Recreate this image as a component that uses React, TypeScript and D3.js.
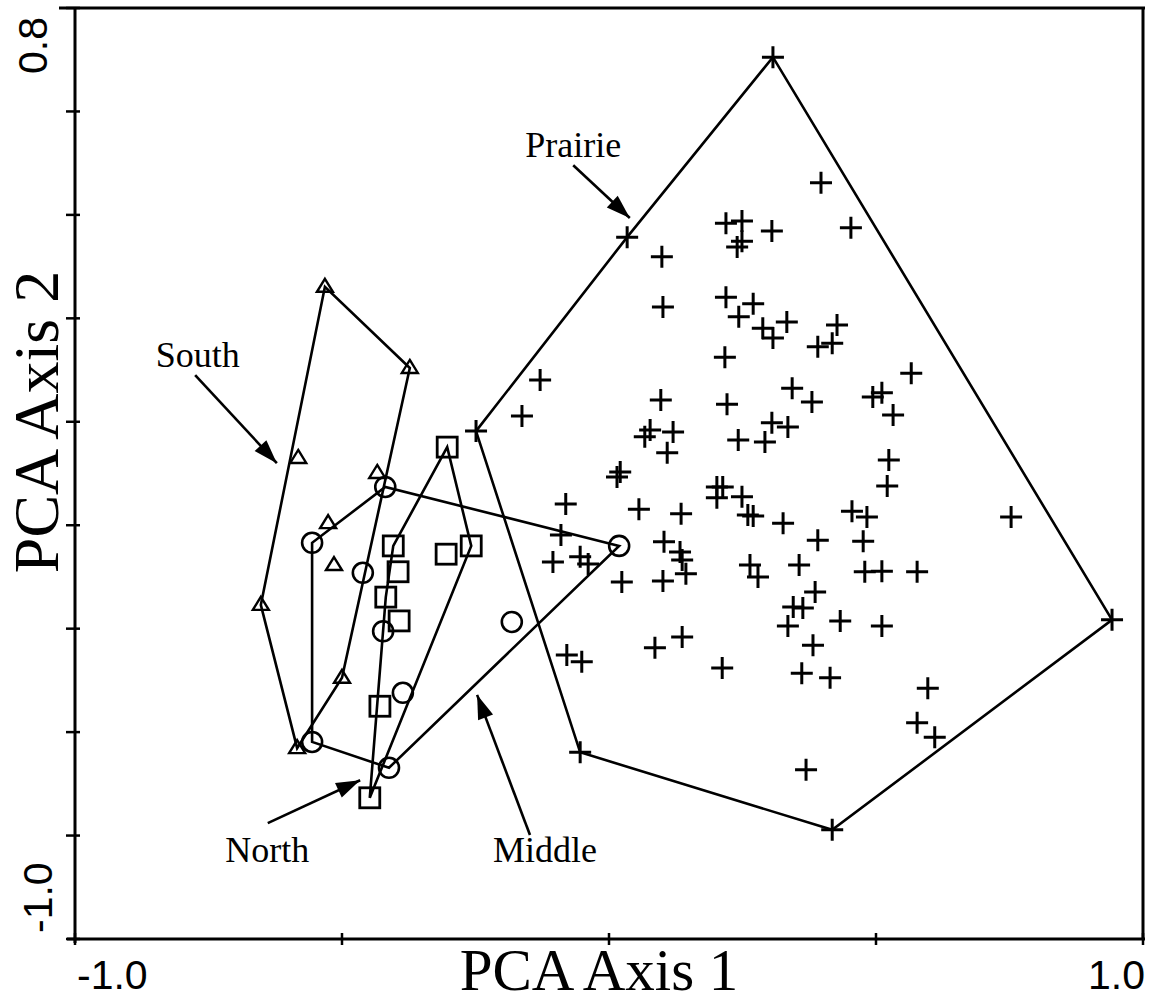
import React, { useEffect } from "react";
import * as d3 from "d3";

type Pt = [number, number];

// PCA scores (axis 1, axis 2) per site group
const prairie: Pt[] = [
  [0.307, 0.705], [0.034, 0.357], [-0.249, -0.018], [-0.054, -0.639], [0.418, -0.789], [0.942, -0.383],
  [0.397, 0.462], [0.453, 0.375], [0.219, 0.384], [0.249, 0.388], [0.24, 0.338], [0.249, 0.349],
  [0.305, 0.369], [0.099, 0.319], [0.101, 0.222], [0.219, 0.241], [0.27, 0.228], [0.243, 0.203],
  [0.288, 0.181], [0.307, 0.162], [0.333, 0.193], [0.427, 0.187], [0.391, 0.145], [0.418, 0.152],
  [0.217, 0.125], [-0.129, 0.081], [-0.163, 0.011], [0.097, 0.042], [0.221, 0.034], [0.343, 0.065],
  [0.38, 0.038], [0.511, 0.056], [0.494, 0.048], [0.566, 0.094], [0.532, 0.013], [0.067, -0.029],
  [0.077, -0.016], [0.12, -0.02], [0.109, -0.06], [0.305, -0.002], [0.335, -0.01], [0.242, -0.035],
  [0.292, -0.039], [0.524, -0.074], [0.521, -0.124], [0.015, -0.107], [0.021, -0.097], [-0.081, -0.159],
  [0.056, -0.169], [0.135, -0.178], [0.202, -0.126], [0.213, -0.126], [0.202, -0.147], [0.249, -0.145],
  [0.26, -0.18], [0.27, -0.182], [0.326, -0.196], [0.455, -0.173], [0.483, -0.184], [0.753, -0.184],
  [-0.09, -0.219], [-0.105, -0.271], [-0.054, -0.261], [-0.039, -0.275], [0.024, -0.31], [0.103, -0.232],
  [0.133, -0.252], [0.137, -0.267], [0.144, -0.294], [0.101, -0.308], [0.391, -0.229], [0.476, -0.231],
  [0.264, -0.277], [0.279, -0.3], [0.356, -0.277], [0.479, -0.29], [0.511, -0.289], [0.577, -0.29],
  [0.386, -0.329], [0.345, -0.358], [0.363, -0.36], [0.335, -0.395], [0.433, -0.385], [0.511, -0.395],
  [0.382, -0.432], [0.086, -0.437], [0.137, -0.416], [-0.079, -0.451], [-0.051, -0.464], [0.212, -0.476],
  [0.361, -0.486], [0.414, -0.495], [0.597, -0.515], [0.577, -0.582], [0.61, -0.61], [0.369, -0.673],
];

const south: Pt[] = [
  [-0.532, 0.261], [-0.373, 0.104], [-0.582, -0.07], [-0.434, -0.099], [-0.526, -0.196],
  [-0.515, -0.277], [-0.652, -0.354], [-0.5, -0.495], [-0.584, -0.631],
];

const middle: Pt[] = [
  [-0.419, -0.126], [-0.556, -0.234], [0.019, -0.24], [-0.461, -0.292], [-0.423, -0.405],
  [-0.386, -0.524], [-0.182, -0.387], [-0.556, -0.619], [-0.412, -0.669],
];

const north: Pt[] = [
  [-0.303, -0.049], [-0.404, -0.24], [-0.395, -0.29], [-0.418, -0.339], [-0.393, -0.385],
  [-0.429, -0.55], [-0.448, -0.727], [-0.305, -0.256], [-0.258, -0.24],
];

const xTicks = [-1.0, -0.5, 0.0, 0.5, 1.0];
const yTicks = [-1.0, -0.8, -0.6, -0.4, -0.2, 0.0, 0.2, 0.4, 0.6, 0.8];
const xEndLabels = ["-1.0", "1.0"];
const yEndLabels = ["-1.0", "0.8"];

// Group labels with arrow tail and head, in axis units
const groupLabels = [
  { text: "Prairie", tx: -0.067, ty: 0.512, x0: -0.067, y0: 0.496, x1: 0.039, y1: 0.394 },
  { text: "South", tx: -0.77, ty: 0.106, x0: -0.775, y0: 0.09, x1: -0.622, y1: -0.08 },
  { text: "North", tx: -0.64, ty: -0.851, x0: -0.639, y0: -0.776, x1: -0.466, y1: -0.693 },
  { text: "Middle", tx: -0.12, ty: -0.851, x0: -0.148, y0: -0.799, x1: -0.247, y1: -0.528 },
];

const W = 1159;
const H = 1005;

const x = d3.scaleLinear().domain([-1, 1]).range([75, 1143]);
const y = d3.scaleLinear().domain([-1, 0.8]).range([939, 8]);

const serif = "'Liberation Serif', 'Times New Roman', serif";
const sans = "'Liberation Sans', Arial, sans-serif";

function hullPath(pts: Pt[]): string {
  const px = pts.map((p) => [x(p[0]), y(p[1])] as [number, number]);
  const hull = d3.polygonHull(px) || [];
  return d3.line()(hull) + "Z";
}

function arrowHead(x0: number, y0: number, x1: number, y1: number): string {
  const dx = x1 - x0;
  const dy = y1 - y0;
  const len = Math.hypot(dx, dy);
  const ux = dx / len;
  const uy = dy / len;
  const L = 24;
  const Wd = 8;
  const bx = x1 - ux * L;
  const by = y1 - uy * L;
  return `M${x1},${y1}L${bx - uy * Wd},${by + ux * Wd}L${bx + uy * Wd},${by - ux * Wd}Z`;
}

export default function App() {
  useEffect(() => {
    document.body.style.margin = "0";
  }, []);

  const left = x(-1);
  const right = x(1);
  const top = y(0.8);
  const bottom = y(-1);

  return (
    <svg width={W} height={H} style={{ display: "block", position: "absolute", left: 0, top: 0, background: "#fff" }}>
      <rect width={W} height={H} fill="#fff" />
      {/* frame and axes */}
      <g stroke="#000" strokeWidth={3} fill="none">
        <line x1={left - 16} y1={top} x2={right + 2} y2={top} />
        <line x1={right} y1={top} x2={right} y2={bottom} />
        <line x1={left} y1={top} x2={left} y2={bottom + 4} />
        <line x1={left - 8} y1={bottom} x2={right + 2} y2={bottom} />
        {yTicks.map((t) => (
          <line key={"yt" + t} x1={left - 9} x2={left + 5} y1={y(t)} y2={y(t)} strokeWidth={2.5} />
        ))}
        {xTicks.map((t) => (
          <line key={"xt" + t} x1={x(t)} x2={x(t)} y1={bottom - 6} y2={bottom + 6} strokeWidth={2.5} />
        ))}
      </g>

      {/* tick labels at the axis ends */}
      <g fontFamily={sans} fontSize={41} fill="#000">
        <text x={left + 2} y={989} textAnchor="start">{xEndLabels[0]}</text>
        <text x={right + 2} y={989} textAnchor="end">{xEndLabels[1]}</text>
        <text transform={`translate(52,${bottom - 6}) rotate(-90)`} textAnchor="start">{yEndLabels[0]}</text>
        <text transform={`translate(47,${top + 9}) rotate(-90)`} textAnchor="end">{yEndLabels[1]}</text>
      </g>

      {/* axis titles */}
      <text x={599} y={990} textAnchor="middle" fontFamily={serif} fontSize={59} fill="#000">
        PCA Axis 1
      </text>
      <text
        transform={`translate(58,${422}) rotate(-90)`}
        textAnchor="middle"
        fontFamily={serif}
        fontSize={64}
        fill="#000"
      >
        PCA Axis 2
      </text>

      {/* convex hulls */}
      <g fill="none" stroke="#000" strokeWidth={2.6} strokeLinejoin="miter">
        <path d={hullPath(prairie)} />
        <path d={hullPath(south)} />
        <path d={hullPath(middle)} />
        <path d={hullPath(north)} />
      </g>

      {/* points */}
      <g fill="none" stroke="#000">
        {prairie.map((p, i) => (
          <path key={"p" + i} transform={`translate(${x(p[0])},${y(p[1])})`} d="M-11,0H11M0,-11V11" strokeWidth={3} />
        ))}
        {south.map((p, i) => (
          <path key={"s" + i} transform={`translate(${x(p[0])},${y(p[1])})`} d="M0,-8L8,5H-8Z" strokeWidth={2.4} />
        ))}
        {middle.map((p, i) => (
          <circle key={"m" + i} cx={x(p[0])} cy={y(p[1])} r={10} strokeWidth={2.6} />
        ))}
        {north.map((p, i) => (
          <rect key={"n" + i} x={x(p[0]) - 10} y={y(p[1]) - 10} width={20} height={20} strokeWidth={2.8} />
        ))}
      </g>

      {/* group labels with arrows */}
      {groupLabels.map((g) => {
        const x0 = x(g.x0);
        const y0 = y(g.y0);
        const x1 = x(g.x1);
        const y1 = y(g.y1);
        return (
          <g key={g.text}>
            <text x={x(g.tx)} y={y(g.ty)} textAnchor="middle" fontFamily={serif} fontSize={36} fill="#000">
              {g.text}
            </text>
            <line x1={x0} y1={y0} x2={x1} y2={y1} stroke="#000" strokeWidth={2.6} />
            <path d={arrowHead(x0, y0, x1, y1)} fill="#000" />
          </g>
        );
      })}
    </svg>
  );
}
